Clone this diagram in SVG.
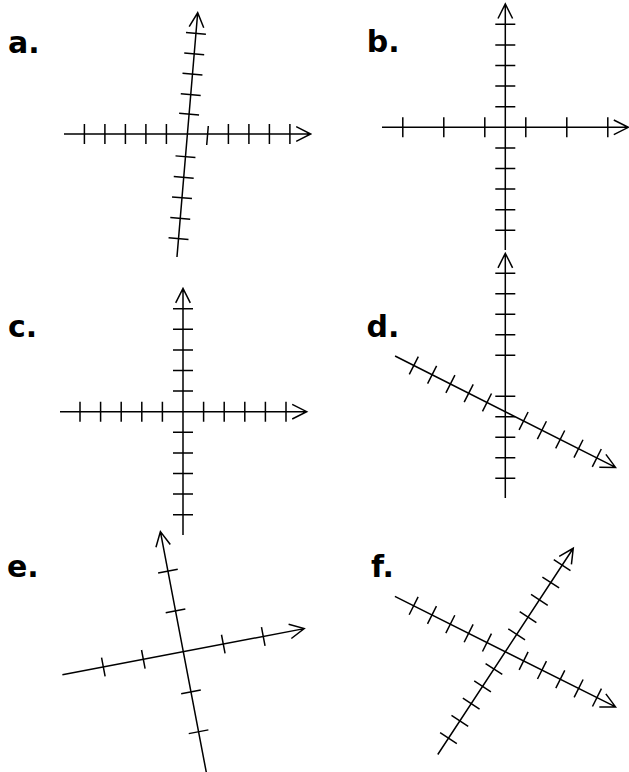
<svg xmlns="http://www.w3.org/2000/svg" width="629" height="772" viewBox="0 0 629 772">
<style>
.ax{stroke:#000;stroke-width:1.5;fill:none;stroke-linecap:butt}
.tk{stroke:#000;stroke-width:1.5;fill:none}
.lbl{font-family:"DejaVu Sans",Verdana,sans-serif;font-weight:bold;font-size:30px;fill:#000}
</style>
<rect width="629" height="772" fill="#fff"/>

<!-- Panel a -->
<g id="panel-a">
  <text class="lbl" x="8" y="53">a.</text>
  <g transform="translate(187.4,134)">
    <path class="ax" d="M-123.4,0 H123.3 M108.8,-7.3 L123.3,0 L108.8,7.3"/>
    <path class="tk" d="M-103,-10V10 M-82.5,-10V10 M-62,-10V10 M-41.5,-10V10 M-21,-10V10 M20.9,-8 L19.3,11 M41,-10V10 M61.5,-10V10 M82,-10V10 M102.5,-10V10"/>
  </g>
  <g transform="translate(187.4,134) rotate(4.85)">
    <path class="ax" d="M0,123.4 V-121.7 M-7.3,-107.2 L0,-121.7 L7.3,-107.2"/>
    <path class="tk" d="M-10,-101H10 M-10,-80.5H10 M-10,-60H10 M-10,-39.5H10 M-10,-20H10 M-10,22.8H10 M-10,43.5H10 M-10,64H10 M-10,84.6H10 M-10,105H10"/>
  </g>
</g>

<!-- Panel b -->
<g id="panel-b">
  <text class="lbl" x="366.7" y="52.3">b.</text>
  <g transform="translate(505.3,127.3)">
    <path class="ax" d="M-123.3,0 H123 M108.5,-7.3 L123,0 L108.5,7.3"/>
    <path class="tk" d="M-102.5,-10V10 M-61.5,-10V10 M-20.5,-10V10 M20.5,-10V10 M61.5,-10V10 M102.5,-10V10"/>
    <path class="ax" d="M0,122.7 V-123.3 M-7.3,-108.8 L0,-123.3 L7.3,-108.8"/>
    <path class="tk" d="M-10,-103H10 M-10,-82.4H10 M-10,-61.8H10 M-10,-41.2H10 M-10,-20.6H10 M-10,20.6H10 M-10,41.2H10 M-10,61.8H10 M-10,82.4H10 M-10,103H10"/>
  </g>
</g>

<!-- Panel c -->
<g id="panel-c">
  <text class="lbl" x="8" y="336.7">c.</text>
  <g transform="translate(183,411.7)">
    <path class="ax" d="M-123,0 H123.7 M109.2,-7.3 L123.7,0 L109.2,7.3"/>
    <path class="tk" d="M-103,-10V10 M-82.4,-10V10 M-61.8,-10V10 M-41.2,-10V10 M-20.6,-10V10 M20.6,-10V10 M41.2,-10V10 M61.8,-10V10 M82.4,-10V10 M103,-10V10"/>
    <path class="ax" d="M0,123.3 V-123.4 M-7.3,-108.9 L0,-123.4 L7.3,-108.9"/>
    <path class="tk" d="M-10,-103H10 M-10,-82.4H10 M-10,-61.8H10 M-10,-41.2H10 M-10,-20.6H10 M-10,20.6H10 M-10,41.2H10 M-10,61.8H10 M-10,82.4H10 M-10,103H10"/>
  </g>
</g>

<!-- Panel d -->
<g id="panel-d">
  <text class="lbl" x="366.5" y="336.7">d.</text>
  <g transform="translate(505.3,0)">
    <path class="ax" d="M0,498 V253.3 M-7.3,267.8 L0,253.3 L7.3,267.8"/>
    <path class="tk" d="M-10,273.3H10 M-10,293.8H10 M-10,314.3H10 M-10,334.8H10 M-10,355.3H10 M-10,396.3H10 M-10,416.8H10 M-10,437.3H10 M-10,457.8H10 M-10,478.3H10"/>
  </g>
  <g transform="translate(505.3,411.7) rotate(26.8)">
    <path class="ax" d="M-123.5,0 H123.5 M109,-7.3 L123.5,0 L109,7.3"/>
    <path class="tk" d="M-102.5,-10V10 M-82,-10V10 M-61.5,-10V10 M-41,-10V10 M-20.5,-10V10 M20.5,-10V10 M41,-10V10 M61.5,-10V10 M82,-10V10 M102.5,-10V10"/>
  </g>
</g>

<!-- Panel e -->
<g id="panel-e">
  <text class="lbl" x="7" y="576.7">e.</text>
  <g transform="translate(183.3,651.7) rotate(-10.8)">
    <path class="ax" d="M-123.1,0 H123.1 M108.6,-7.3 L123.1,0 L108.6,7.3"/>
    <path class="tk" d="M-81.4,-9.5V9.5 M-40.7,-9.5V9.5 M40.7,-9.5V9.5 M81.4,-9.5V9.5"/>
    <path class="ax" d="M0,124 V-122.2 M-7.3,-107.7 L0,-122.2 L7.3,-107.7"/>
    <path class="tk" d="M-10,-82H10 M-10,-41.5H10 M-10,41H10 M-10,81.5H10"/>
  </g>
</g>

<!-- Panel f -->
<g id="panel-f">
  <text class="lbl" x="371" y="576.7">f.</text>
  <g transform="translate(505.3,651.7) rotate(26.6)">
    <path class="ax" d="M-123.5,0 H123.3 M108.8,-7.3 L123.3,0 L108.8,7.3"/>
    <path class="tk" d="M-102.5,-10V10 M-82,-10V10 M-61.5,-10V10 M-41,-10V10 M-20.5,-10V10 M20.5,-10V10 M41,-10V10 M61.5,-10V10 M82,-10V10 M102.5,-10V10"/>
  </g>
  <g transform="translate(505.3,651.7) rotate(-56.7)">
    <path class="ax" d="M-123,0 H123.8 M109.3,-7.3 L123.8,0 L109.3,7.3"/>
    <path class="tk" d="M-103.5,-10V10 M-82.8,-10V10 M-62.1,-10V10 M-41.4,-10V10 M-20.7,-10V10 M20.7,-10V10 M41.4,-10V10 M62.1,-10V10 M82.8,-10V10 M103.5,-10V10"/>
  </g>
</g>
</svg>
